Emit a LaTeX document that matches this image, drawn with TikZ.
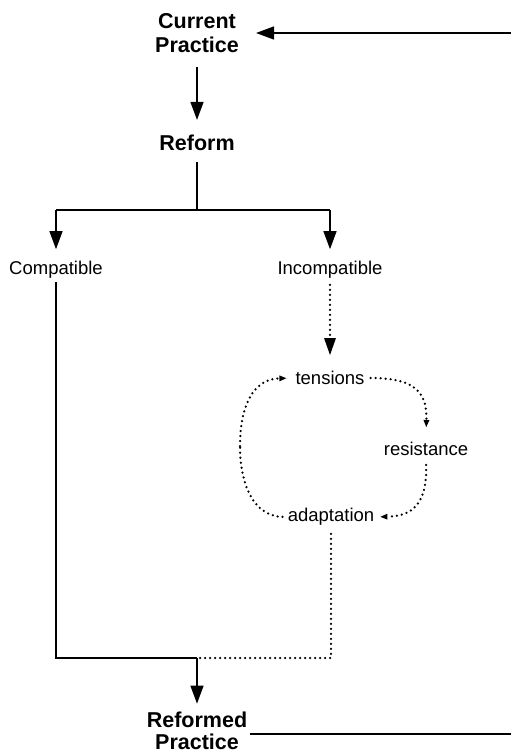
\documentclass[tikz,border=0pt]{standalone}
\usepackage{fontspec}
\setmainfont{Liberation Sans}
\usetikzlibrary{arrows.meta}
\begin{document}
\begin{tikzpicture}[x=1pt,y=-1pt,
  lbl/.style={inner sep=0pt,font=\fontsize{18.5}{22}\selectfont},
  blbl/.style={inner sep=0pt,align=center,font=\fontsize{21.5}{24.5}\selectfont\bfseries},
  blbl2/.style={inner sep=0pt,align=center,font=\fontsize{21.5}{22.5}\selectfont\bfseries},
  conn/.style={line width=1.4pt},
  arr/.style={conn,-{Triangle[length=18pt,width=13pt]}},
  dotln/.style={line width=2.5pt,line cap=round,dash pattern=on 0pt off 5pt},
  dotarr/.style={dotln,-{Triangle[length=17pt,width=12pt,line cap=butt,line width=0pt]}},
  smallarr/.style={dotln,-{Triangle[length=7pt,width=6pt,line cap=butt,line width=0pt]}}]
\useasboundingbox (0,0) rectangle (511,754);

\node[blbl] (cur) at (197,33) {Current\\Practice};
\node[blbl] (ref) at (197,143) {Reform};
\node[lbl] (comp) at (56,270) {Compatible};
\node[lbl] (incomp) at (330,270) {Incompatible};
\node[lbl] (tens) at (330,378) {tensions};
\node[lbl] (resist) at (426,449) {resistance};
\node[lbl] (adapt) at (331,517) {adaptation};
\node[blbl2] (refd) at (197,731) {Reformed\\Practice};

\coordinate (rt) at (511,33);
\coordinate (rb) at (511,734);
\coordinate (j1) at (197,210);
\coordinate (jl) at (56,210);
\coordinate (jr) at (330,210);
\coordinate (bm) at (197,658);

% top
\draw[arr,shorten >=17pt] (rt) -- (cur.east);
\draw[arr,shorten <=14pt,shorten >=15pt] (cur.south) -- (ref.north);
\draw[conn,shorten <=11pt] (ref.south) -- (j1);
\draw[conn] (jl) -- (jr);
\draw[arr,shorten >=12pt] (jl) -- (comp.north);
\draw[arr,shorten >=12pt] (jr) -- (incomp.north);

% compatible branch
\draw[conn,shorten <=3pt] (comp.south) |- (bm);

% incompatible branch
\draw[dotarr,shorten <=6pt,shorten >=16pt] (incomp.south) -- (tens.north);
\draw[smallarr,shorten <=6pt,shorten >=15pt] (tens.east) .. controls (415,378) and (427,392) .. (resist.north);
\draw[smallarr,shorten <=9pt,shorten >=6pt] (resist.south) .. controls (427,505) and (412,516) .. (adapt.east);
\draw[dotln,shorten <=5pt] (adapt.west) .. controls (252,516) and (240,482) .. (240,446);
\draw[smallarr,shorten >=9pt] (240,446) .. controls (240,408) and (252,379) .. (tens.west);
\draw[dotln,shorten <=8pt] (adapt.south) |- (bm);

% bottom
\draw[arr,shorten >=8pt] (bm) -- (refd.north);
\draw[conn,shorten <=3pt] (refd.east |- rb) -- (rb);
\end{tikzpicture}
\end{document}
